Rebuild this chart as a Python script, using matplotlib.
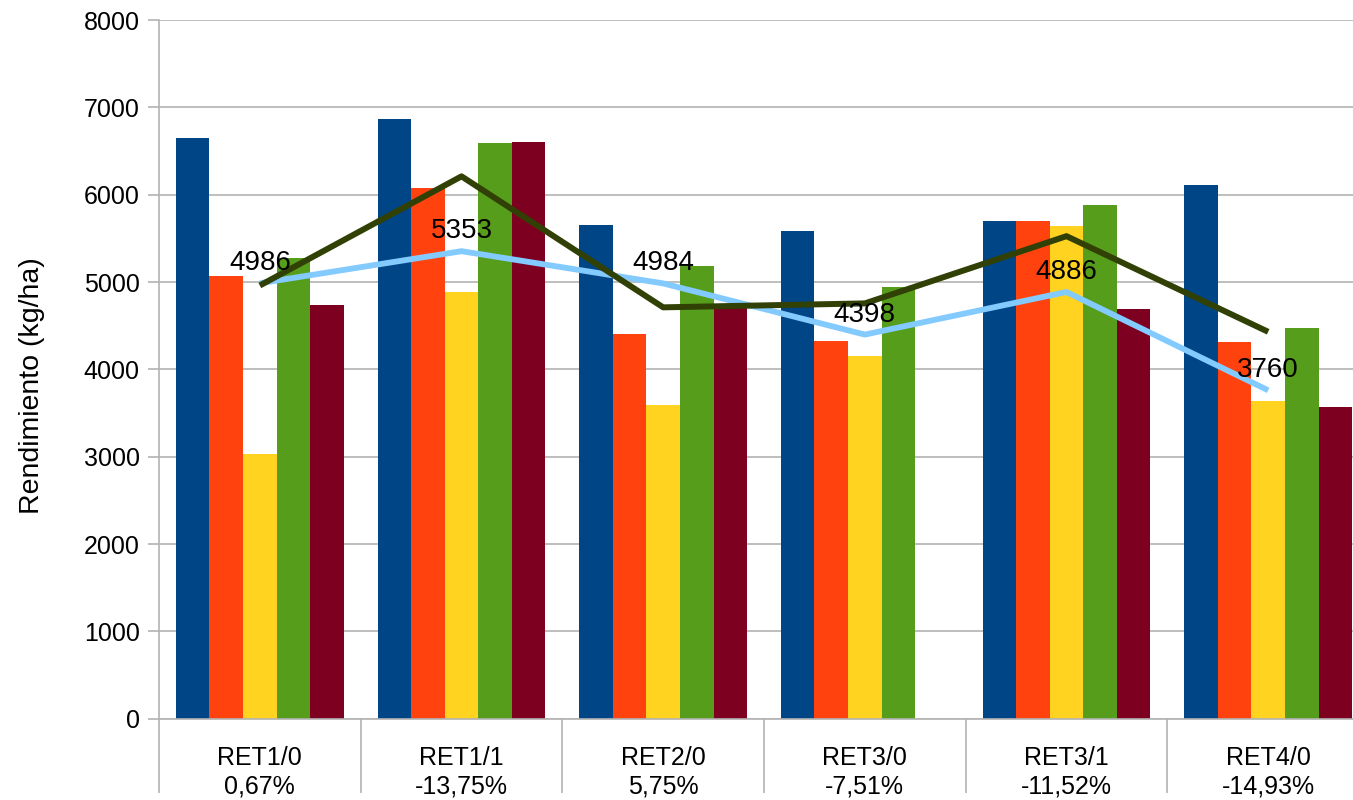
import matplotlib
matplotlib.use("Agg")
import matplotlib.pyplot as plt
import numpy as np

plt.rcParams['font.family'] = ['Liberation Sans', 'DejaVu Sans']

categories = ["RET1/0\n0,67%", "RET1/1\n-13,75%", "RET2/0\n5,75%",
              "RET3/0\n-7,51%", "RET3/1\n-11,52%", "RET4/0\n-14,93%"]

s1 = [6650, 6866, 5652, 5584, 5698, 6111]
s2 = [5070, 6076, 4405, 4324, 5698, 4313]
s3 = [3030, 4885, 3592, 4153, 5641, 3637]
s4 = [5275, 6591, 5183, 4943, 5882, 4470]
s5 = [4737, 6603, 4718, np.nan, 4691, 3569]
line_light = [4986, 5353, 4984, 4398, 4886, 3760]
line_dark = [4960, 6210, 4710, 4755, 5525, 4430]

bar_series = [s1, s2, s3, s4, s5]
bar_colors = ["#004586", "#ff420e", "#ffd320", "#579d1c", "#7e0021"]

W, H = 1353, 800
fig = plt.figure(figsize=(W / 100, H / 100), dpi=100)
left_px, right_px, top_px, bottom_px = 159, 1369, 20, 718.7
ax = fig.add_axes([left_px / W, (H - bottom_px) / H,
                   (right_px - left_px) / W, (bottom_px - top_px) / H])

x = np.arange(len(categories))
bw = 0.1666
for i, (vals, c) in enumerate(zip(bar_series, bar_colors)):
    ax.bar(x + (i - 2) * bw, vals, width=bw, color=c, zorder=2, linewidth=0)

ax.plot(x, line_light, color="#83caff", lw=4.2, zorder=3, solid_capstyle='butt')
ax.plot(x, line_dark, color="#314004", lw=4.3, zorder=4, solid_capstyle='butt')

for xi, v in zip(x, line_light):
    ax.annotate(str(v), (xi, v), xytext=(0, 5), textcoords='offset points',
                ha='center', va='bottom', fontsize=20, color='black', zorder=5)

ax.set_xlim(-0.5, len(categories) - 0.5)
ax.set_ylim(0, 8000)
ax.set_yticks(np.arange(0, 8001, 1000))
ax.yaxis.grid(True, color="#b3b3b3", lw=1.2, zorder=0)
ax.set_axisbelow(True)

for sp in ['top', 'right']:
    ax.spines[sp].set_visible(False)
ax.spines['left'].set_color("#b3b3b3")
ax.spines['bottom'].set_color("#b3b3b3")
ax.spines['left'].set_linewidth(1.2)
ax.spines['bottom'].set_linewidth(1.2)

ax.set_xticks(x)
ax.set_xticklabels(categories, fontsize=18, linespacing=1.2)
ax.tick_params(axis='x', which='major', length=0, pad=20)
ax.set_xticks(np.arange(-0.5, len(categories), 1), minor=True)
ax.tick_params(axis='x', which='minor', length=53, color="#b3b3b3", width=1.2)
ax.tick_params(axis='y', which='major', length=8, color="#b3b3b3", width=1.2,
               labelsize=18, pad=6)

ax.set_ylabel("Rendimiento (kg/ha)", fontsize=20.5)
ax.yaxis.set_label_coords(-0.094, 0.476)

fig.savefig("out.png", dpi=100)
